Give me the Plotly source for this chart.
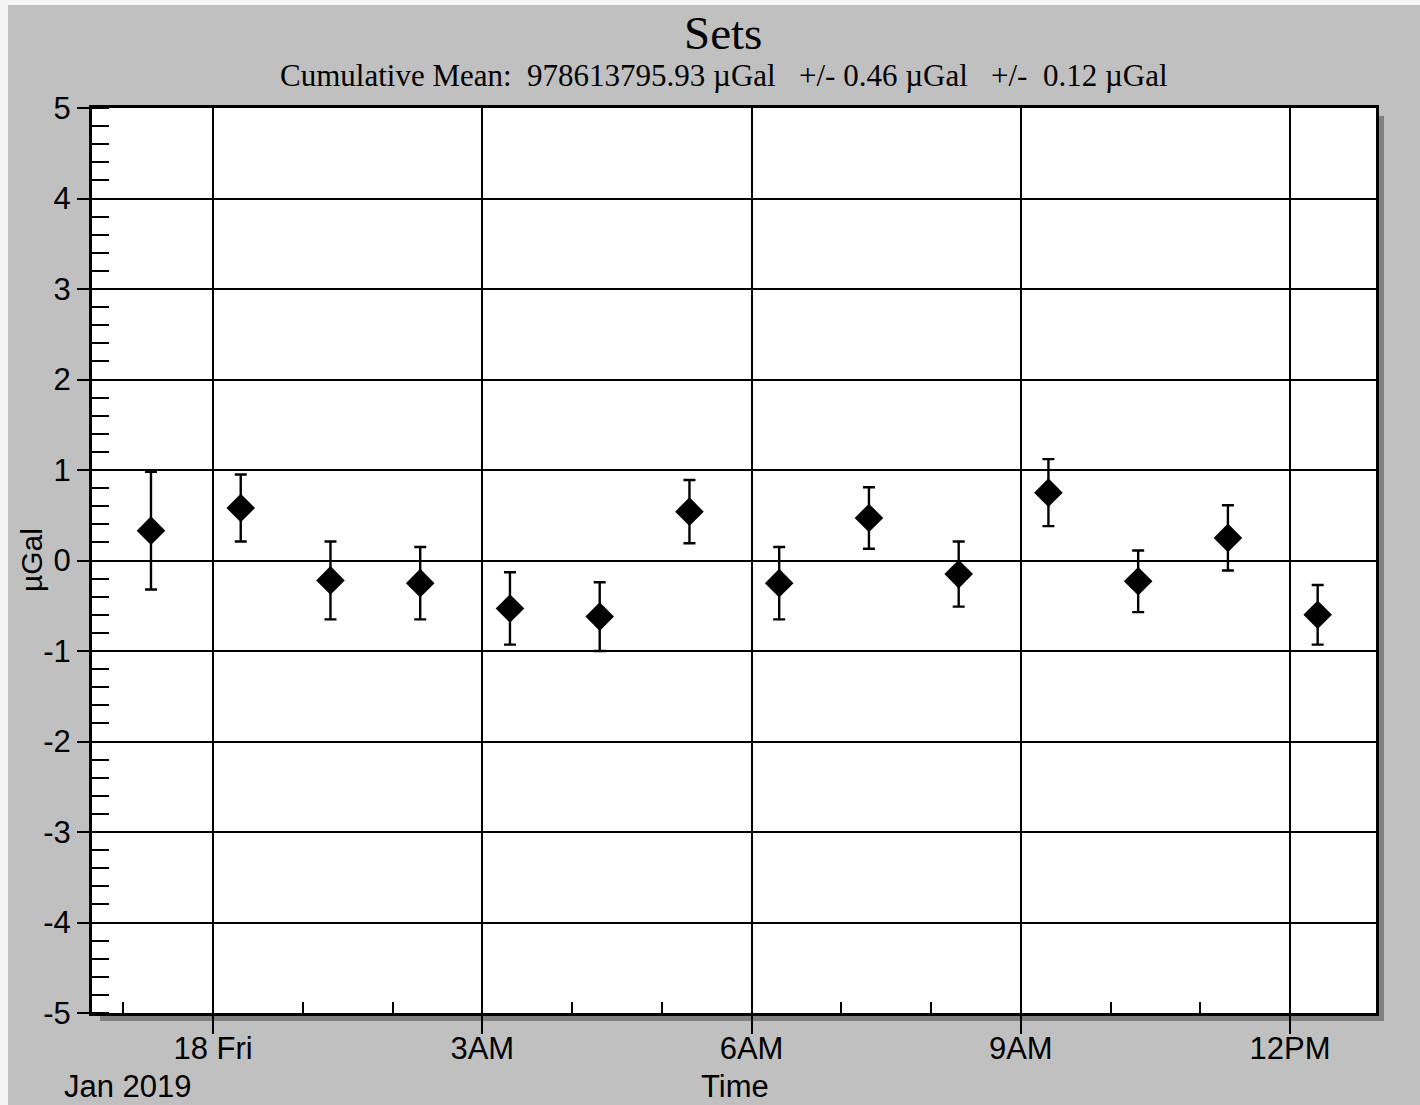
import plotly.graph_objects as go

# ---- data ----
set_times = [
    "2019-01-17 23:18:30", "2019-01-18 00:18:30", "2019-01-18 01:18:30",
    "2019-01-18 02:18:30", "2019-01-18 03:18:30", "2019-01-18 04:18:30",
    "2019-01-18 05:18:30", "2019-01-18 06:18:30", "2019-01-18 07:18:30",
    "2019-01-18 08:18:30", "2019-01-18 09:18:30", "2019-01-18 10:18:30",
    "2019-01-18 11:18:30", "2019-01-18 12:18:30",
]
set_values = [0.33, 0.58, -0.22, -0.25, -0.53, -0.62, 0.54, -0.25, 0.47, -0.15, 0.75, -0.23, 0.25, -0.60]
set_errors = [0.65, 0.37, 0.43, 0.40, 0.40, 0.38, 0.35, 0.40, 0.34, 0.36, 0.37, 0.34, 0.36, 0.33]

x_tick_vals = ["2019-01-18 00:00", "2019-01-18 03:00", "2019-01-18 06:00",
               "2019-01-18 09:00", "2019-01-18 12:00"]
x_tick_text = ["18 Fri", "3AM", "6AM", "9AM", "12PM"]
y_tick_vals = [-5, -4, -3, -2, -1, 0, 1, 2, 3, 4, 5]
y_tick_text = ["-5", "-4", "-3", "-2", "-1", "0", "1", "2", "3", "4", "5"]

title_text = "Sets"
subtitle_text = "Cumulative Mean:  978613795.93 \u00b5Gal   +/- 0.46 \u00b5Gal   +/-  0.12 \u00b5Gal"

# ---- figure ----
W, H = 1420, 1105
ML, MR, MT, MB = 92, 44, 108, 92
PW, PH = W - ML - MR, H - MT - MB


def px_x(px):
    return (px - ML) / PW


def px_y(py):
    return (H - MB - py) / PH


fig = go.Figure()
fig.add_trace(go.Scatter(
    x=set_times, y=set_values,
    mode="markers",
    marker=dict(symbol="diamond", size=22, color="black"),
    error_y=dict(type="data", array=set_errors, visible=True,
                 color="black", thickness=2.4, width=6),
    showlegend=False,
    cliponaxis=False,
))

sans = "Liberation Sans, Arial, sans-serif"
serif = "Liberation Serif, Times New Roman, serif"
TF = 31

fig.update_layout(
    width=W, height=H,
    margin=dict(l=ML, r=MR, t=MT, b=MB, pad=0),
    paper_bgcolor="#c0c0c0",
    plot_bgcolor="white",
    font=dict(family=sans, color="black", size=TF),
    xaxis=dict(
        type="date",
        range=["2019-01-17 22:39:04", "2019-01-18 12:57:30"],
        tickmode="array", tickvals=x_tick_vals, ticktext=x_tick_text,
        ticks="outside", ticklen=18, tickwidth=2, tickcolor="black",
        ticklabelstandoff=-12,
        showgrid=True, gridcolor="black", gridwidth=2,
        showline=True, linecolor="black", linewidth=3, mirror=True,
        zeroline=False,
        tickfont=dict(family=sans, size=TF, color="black"),
        minor=dict(tickmode="linear", ticks="inside", ticklen=11, tickwidth=2,
                   tickcolor="black", dtick=3600000, tick0="2019-01-18 00:00",
                   showgrid=False),
        fixedrange=True,
    ),
    yaxis=dict(
        range=[-5, 5],
        tickmode="array", tickvals=y_tick_vals, ticktext=y_tick_text,
        ticks="outside", ticklen=12, tickwidth=2, tickcolor="black",
        showgrid=True, gridcolor="black", gridwidth=2,
        showline=True, linecolor="black", linewidth=3, mirror=True,
        zeroline=False,
        tickfont=dict(family=sans, size=TF, color="black"),
        minor=dict(tickmode="linear", ticks="inside", ticklen=17, tickwidth=2,
                   tickcolor="black", dtick=0.2, tick0=0, showgrid=False),
        fixedrange=True,
    ),
    shapes=[
        # drop shadow (right and bottom)
        dict(type="rect", xref="paper", yref="paper", layer="below",
             x0=px_x(1376), x1=px_x(1384), y0=px_y(1021), y1=px_y(116),
             fillcolor="#808080", line=dict(width=0)),
        dict(type="rect", xref="paper", yref="paper", layer="below",
             x0=px_x(100), x1=px_x(1384), y0=px_y(1021), y1=px_y(1013),
             fillcolor="#808080", line=dict(width=0)),
        # light frame strips at top and left of the image
        dict(type="rect", xref="paper", yref="paper", layer="below",
             x0=px_x(0), x1=px_x(W), y0=px_y(5), y1=px_y(0),
             fillcolor="#f4f4f4", line=dict(width=0)),
        dict(type="rect", xref="paper", yref="paper", layer="below",
             x0=px_x(0), x1=px_x(8), y0=px_y(H), y1=px_y(0),
             fillcolor="#f4f4f4", line=dict(width=0)),
    ],
    annotations=[
        dict(text=title_text, xref="paper", yref="paper",
             x=px_x(723), y=px_y(33), xanchor="center", yanchor="middle",
             showarrow=False, font=dict(family=serif, size=47, color="black")),
        dict(text=subtitle_text, xref="paper", yref="paper",
             x=px_x(724), y=px_y(75), xanchor="center", yanchor="middle",
             showarrow=False, font=dict(family=serif, size=31, color="black")),
        dict(text="\u00b5Gal", xref="paper", yref="paper",
             x=px_x(31), y=px_y(560), xanchor="center", yanchor="middle",
             textangle=-90, showarrow=False,
             font=dict(family=sans, size=30, color="black")),
        dict(text="Time", xref="paper", yref="paper",
             x=px_x(735), y=px_y(1086), xanchor="center", yanchor="middle",
             showarrow=False, font=dict(family=sans, size=TF, color="black")),
        dict(text="Jan 2019", xref="paper", yref="paper",
             x=px_x(128), y=px_y(1086), xanchor="center", yanchor="middle",
             showarrow=False, font=dict(family=sans, size=TF, color="black")),
    ],
)

fig.write_html("out.html")
